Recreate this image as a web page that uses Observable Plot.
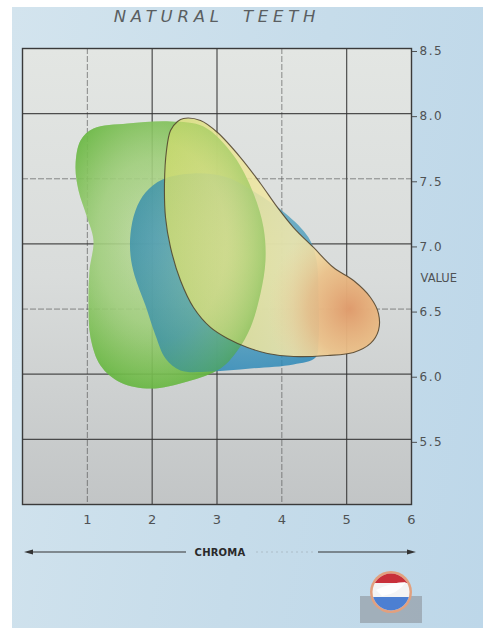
<!DOCTYPE html>
<html><head><meta charset="utf-8">
<script src="https://cdn.jsdelivr.net/npm/d3@7"></script>
<script src="https://cdn.jsdelivr.net/npm/@observablehq/plot@0.6"></script>
<style>
html,body{margin:0;padding:0;background:#fff;}
#wrap{position:relative;width:483px;height:628px;overflow:hidden;background:#fff;}
#bg{position:absolute;left:12px;top:7px;right:0;bottom:0;background:linear-gradient(100deg,#d3e4ee 0%,#c6dcea 55%,#bdd7e9 100%);}
#chart{position:absolute;left:0;top:0;}
#title{position:absolute;left:0;width:434px;top:7px;text-align:center;font:italic 16.5px "DejaVu Sans";letter-spacing:4.8px;word-spacing:9px;color:#5a5e61;}
#extra{position:absolute;left:0;top:530px;}
</style></head><body>
<div id="wrap">
<div id="bg"></div>
<div id="chart"></div>
<div id="title">NATURAL TEETH</div>
<svg id="extra" width="483" height="98" viewBox="0 0 483 98">
  <defs>
    <clipPath id="logoClip"><circle cx="391" cy="62" r="18.5"/></clipPath>
  </defs>
  <line x1="28" y1="22" x2="186" y2="22" stroke="#333" stroke-width="1.2"/>
  <path d="M24,22 L33,19.5 L33,24.5 Z" fill="#333"/>
  <text x="220" y="25.5" text-anchor="middle" font-family="DejaVu Sans" font-weight="bold" font-size="10" fill="#2a2a2a" letter-spacing="0.2">CHROMA</text>
  <line x1="256" y1="22" x2="316" y2="22" stroke="#777" stroke-opacity="0.3" stroke-width="1" stroke-dasharray="2,3"/>
  <line x1="318" y1="22" x2="410" y2="22" stroke="#333" stroke-width="1.2"/>
  <path d="M416,22 L407,19.5 L407,24.5 Z" fill="#333"/>
  <rect x="360" y="66" width="62" height="27" fill="#98a4ae" opacity="0.8"/>
  <circle cx="391" cy="62" r="21" fill="#e2a07e"/>
  <g clip-path="url(#logoClip)">
    <rect x="370" y="40" width="42" height="44" fill="#f4f4f4"/>
    <rect x="370" y="40" width="42" height="13" fill="#c8303a"/>
    <rect x="370" y="67" width="42" height="18" fill="#4c7fd2"/>
    <path d="M376,60 Q392,52 406,52 Q398,64 382,66 Z" fill="#ffffff" opacity="0.9"/>
  </g>
</svg>
</div>
<script>
// Axes
const chromaTicks = [1, 2, 3, 4, 5, 6];
const valueTicks = [5.5, 6.0, 6.5, 7.0, 7.5, 8.0, 8.5];
const gridChromaHeavy = [2, 3, 5];
const gridChromaLight = [1, 4];
const gridValueHeavy = [5.5, 6.0, 7.0, 8.0];
const gridValueLight = [6.5, 7.5];

// Green region (outline, chroma / value)
const greenChroma = [0.895, 1.095, 1.620, 2.283, 2.792, 3.255, 3.563, 3.717, 3.748, 3.671, 3.517, 3.316, 3.054, 2.545, 1.974, 1.512, 1.203, 1.049, 1.018, 1.033, 1.095, 0.987, 0.864, 0.818];
const greenValue  = [7.794, 7.886, 7.924, 7.940, 7.901, 7.679, 7.387, 7.126, 6.873, 6.620, 6.359, 6.182, 6.044, 5.944, 5.890, 5.937, 6.067, 6.282, 6.543, 6.796, 7.026, 7.218, 7.410, 7.602];

// Blue region
const blueChroma = [1.666, 1.743, 1.897, 2.160, 2.638, 3.162, 3.594, 4.057, 4.412, 4.535, 4.566, 4.566, 4.520, 4.180, 3.517, 2.900, 2.437, 2.206, 2.052, 1.897, 1.728, 1.666];
const blueValue  = [7.080, 7.257, 7.395, 7.495, 7.541, 7.510, 7.395, 7.234, 7.049, 6.873, 6.566, 6.259, 6.128, 6.075, 6.044, 6.021, 6.029, 6.121, 6.297, 6.527, 6.758, 6.911];

// Yellow region
const yellowChroma = [2.483, 2.746, 3.008, 3.363, 3.671, 3.933, 4.180, 4.489, 4.797, 5.106, 5.368, 5.491, 5.491, 5.368, 5.106, 4.705, 4.180, 3.779, 3.471, 3.162, 2.900, 2.638, 2.437, 2.283, 2.206, 2.190, 2.221, 2.283, 2.391];
const yellowValue  = [7.963, 7.947, 7.855, 7.663, 7.464, 7.280, 7.126, 6.973, 6.819, 6.719, 6.589, 6.466, 6.336, 6.236, 6.167, 6.144, 6.136, 6.159, 6.205, 6.274, 6.359, 6.512, 6.719, 6.973, 7.203, 7.464, 7.717, 7.871, 7.940];

const pts = (xs, ys) => xs.map((x, i) => ({chroma: x, value: ys[i]}));
const green = pts(greenChroma, greenValue);
const blue = pts(blueChroma, blueValue);
const yellow = pts(yellowChroma, yellowValue);

const curve = "catmull-rom-closed";
const svg = Plot.plot({
  width: 483,
  height: 540,
  marginLeft: 22,
  marginRight: 72,
  marginTop: 48,
  marginBottom: 36,
  style: {background: "transparent", fontFamily: "DejaVu Sans", overflow: "visible"},
  x: {domain: [0, 6]},
  y: {domain: [5, 8.5]},
  marks: [
    Plot.frame({fill: "url(#panelGrad)", stroke: "none"}),
    Plot.ruleX(gridChromaLight, {stroke: "#4a4a4a", strokeOpacity: 0.6, strokeWidth: 1, strokeDasharray: "6,2"}),
    Plot.ruleX(gridChromaHeavy, {stroke: "#333", strokeOpacity: 0.85, strokeWidth: 1.2}),
    Plot.ruleY(gridValueLight, {stroke: "#4a4a4a", strokeOpacity: 0.6, strokeWidth: 1, strokeDasharray: "6,2"}),
    Plot.ruleY(gridValueHeavy, {stroke: "#333", strokeOpacity: 0.85, strokeWidth: 1.3}),
    Plot.line(green, {x: "chroma", y: "value", curve, fill: "url(#greenGrad)", fillOpacity: 0.88, stroke: "none"}),
    Plot.line(blue, {x: "chroma", y: "value", curve, fill: "url(#blueGrad)", fillOpacity: 0.84, stroke: "none"}),
    Plot.line(yellow, {x: "chroma", y: "value", curve, fill: "url(#yellowGrad)", fillOpacity: 0.86, stroke: "none"}),
    Plot.line(yellow, {x: "chroma", y: "value", curve, fill: "url(#orangeGrad)", stroke: "none"}),
    Plot.line(green, {x: "chroma", y: "value", curve, fill: "url(#greenTint)", stroke: "none"}),
    Plot.line(yellow, {x: "chroma", y: "value", curve, fill: "none", stroke: "#4e3f2a", strokeWidth: 1.1, strokeOpacity: 0.85}),
    Plot.frame({stroke: "#3a3a3a", strokeWidth: 1.4}),
    Plot.axisY(valueTicks, {anchor: "right", tickSize: 5, tickPadding: 3, fontSize: 12, dy: 3, tickFormat: d => d.toFixed(1), color: "#4f5254", label: null}),
    Plot.axisX(chromaTicks, {anchor: "bottom", tickSize: 0, tickPadding: 10, fontSize: 13, color: "#4f5254", label: null}),
    Plot.text(["VALUE"], {frameAnchor: "right", dx: 9, dy: 2, textAnchor: "start", fontSize: 11.5, fill: "#4f5254"})
  ]
});

const defs = d3.select(svg).insert("defs", ":first-child");
const lin = (id, stops, x2 = 0, y2 = 1) => {
  const g = defs.append("linearGradient").attr("id", id).attr("x1", 0).attr("y1", 0).attr("x2", x2).attr("y2", y2);
  stops.forEach(([o, c, op = 1]) => g.append("stop").attr("offset", o).attr("stop-color", c).attr("stop-opacity", op));
};
const rad = (id, cx, cy, r, stops) => {
  const g = defs.append("radialGradient").attr("id", id).attr("cx", cx).attr("cy", cy).attr("r", r);
  stops.forEach(([o, c, op = 1]) => g.append("stop").attr("offset", o).attr("stop-color", c).attr("stop-opacity", op));
};
lin("panelGrad", [[0, "#e3e6e3"], [0.5, "#d9dcdb"], [1, "#c2c5c6"]]);
rad("greenGrad", 0.42, 0.45, 0.62, [[0, "#c3dca9"], [0.5, "#9fce80"], [0.85, "#6cb84d"], [1, "#4ea83a"]]);
rad("greenTint", 0.42, 0.45, 0.62, [[0, "#b8d880", 0.12], [0.6, "#9ccc60", 0.2], [0.9, "#6cba3e", 0.45], [1, "#5aae30", 0.55]]);
rad("blueGrad", 0.62, 0.42, 0.68, [[0, "#83c0c6"], [0.55, "#4a9bbd"], [1, "#1f80b5"]]);
lin("yellowGrad", [[0, "#d2dc70"], [0.3, "#ebe496"], [0.6, "#f3e8ac"], [1, "#f2dc9c"]], 1, 0);
rad("orangeGrad", 0.86, 0.8, 0.38, [[0, "#de986a", 0.95], [0.5, "#e6ae7a", 0.6], [1, "#f0d49a", 0]]);

d3.select(svg).selectAll('[aria-label="y-axis tick label"] text').attr("letter-spacing", "1.5px");

document.getElementById("chart").append(svg);
</script>
</body></html>
